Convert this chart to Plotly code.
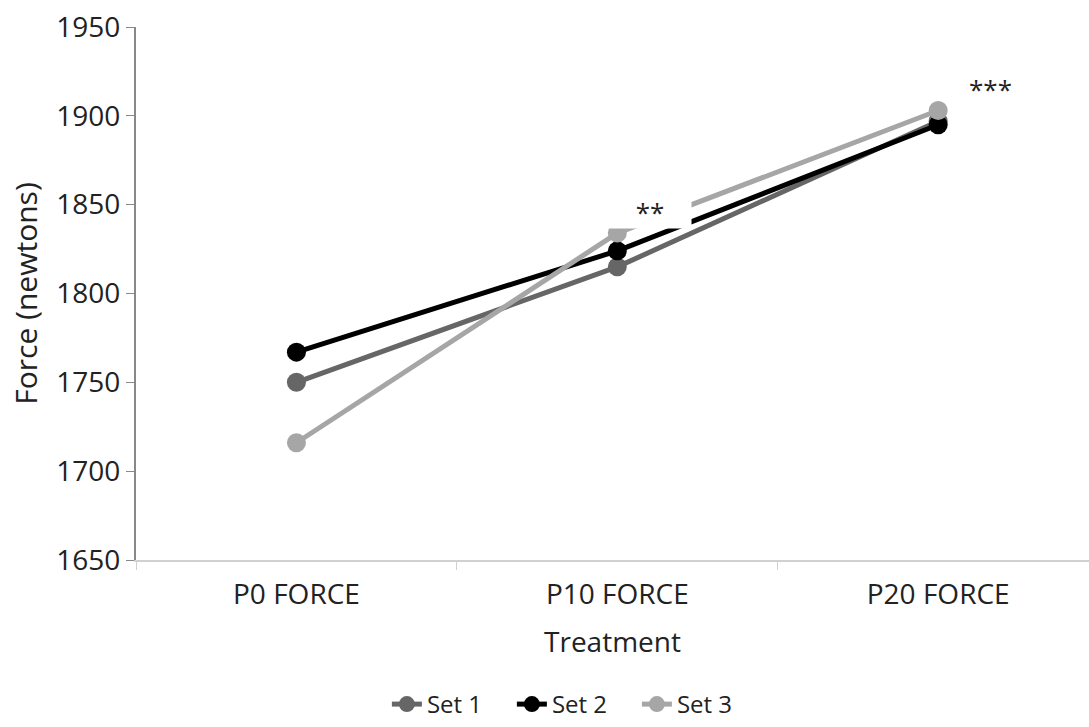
import plotly.graph_objects as go

categories = ["P0 FORCE", "P10 FORCE", "P20 FORCE"]
set1 = [1750, 1815, 1897]
set2 = [1767, 1824, 1895]
set3 = [1716, 1834, 1903]
series_names = ["Set 1", "Set 2", "Set 3"]
colors = ["#666666", "#000000", "#a6a6a6"]

fig = go.Figure()
for name, vals, c in zip(series_names, [set1, set2, set3], colors):
    fig.add_trace(go.Scatter(
        x=categories, y=vals, name=name, mode="lines+markers",
        line=dict(color=c, width=5), marker=dict(color=c, size=19),
    ))

font = "Open Sans"
fig.add_annotation(x="P10 FORCE", y=1846, text="**", showarrow=False,
                   xshift=33, bgcolor="white", font=dict(size=26, color="#222", family=font),
                   width=80, height=30)
fig.add_annotation(x="P20 FORCE", y=1915, text="***", showarrow=False,
                   xshift=52, font=dict(size=26, color="#222", family=font))

fig.update_layout(
    width=1089, height=727,
    margin=dict(l=136, r=0, t=27, b=167),
    plot_bgcolor="white", paper_bgcolor="white",
    font=dict(family=font, size=22, color="#222"),
    showlegend=True,
    legend=dict(orientation="h", xref="paper", x=0.46, xanchor="center",
                yref="container", y=0.0, yanchor="bottom",
                font=dict(size=24, family=font), entrywidth=80),
    xaxis=dict(
        type="category", range=[-0.5, 2.47], tickson="boundaries", automargin=False,
        ticks="outside", ticklen=8, tickcolor="#d0d0d0",
        tickfont=dict(size=28, family=font), ticklabelstandoff=8,
        showline=True, linecolor="#d0d0d0", linewidth=2, showgrid=False,
        title=dict(text="Treatment", standoff=22, font=dict(size=28, family=font)),
    ),
    yaxis=dict(
        range=[1650, 1950], dtick=50, ticks="outside", ticklen=8, tickcolor="#888",
        tickfont=dict(size=28, family=font), automargin=False,
        showline=True, linecolor="#888", linewidth=2, showgrid=False, zeroline=False,
        title=dict(text="Force (newtons)", standoff=10, font=dict(size=30, family=font)),
    ),
)
fig.write_html("out.html")
